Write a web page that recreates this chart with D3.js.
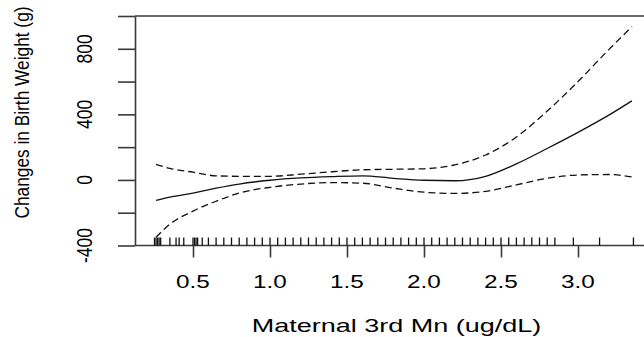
<!DOCTYPE html>
<html>
<head>
<meta charset="utf-8">
<script src="https://cdn.jsdelivr.net/npm/d3@7"></script>
<style>
  html, body { margin: 0; padding: 0; background: #fff; }
  svg { display: block; }
  text { font-family: "Liberation Sans", Arial, Helvetica, sans-serif; fill: #000; }
</style>
</head>
<body>
<svg id="chart" width="644" height="337"></svg>
<script>
// ---- data ----
const xValues = [0.26, 0.35, 0.5, 0.65, 0.8, 1.0, 1.2, 1.4, 1.6, 1.8, 2.0, 2.2, 2.4, 2.6, 2.8, 3.0, 3.2, 3.35];
const fitValues = [-125, -105, -80, -50, -25, -2, 12, 20, 25, 10, -2, -5, 22, 98, 192, 290, 395, 482];
const upperValues = [95, 70, 47, 25, 22, 22, 35, 50, 62, 65, 68, 92, 152, 262, 420, 600, 795, 935];
const lowerValues = [-350, -270, -190, -130, -80, -45, -25, -16, -20, -50, -75, -82, -70, -30, 10, 30, 33, 18];
const rugValues = [0.25, 0.26, 0.27, 0.28, 0.29, 0.35, 0.39, 0.41, 0.44, 0.50, 0.51, 0.52, 0.53, 0.56,
  0.60, 0.65, 0.70, 0.75, 0.80, 0.85, 0.90, 0.95, 1.00, 1.05, 1.10, 1.15, 1.20, 1.25, 1.30, 1.35,
  1.40, 1.45, 1.50, 1.55, 1.60, 1.65, 1.70, 1.75, 1.80, 1.85, 1.90, 1.95, 2.00, 2.05, 2.10, 2.15,
  2.20, 2.25, 2.30, 2.35, 2.40, 2.45, 2.50, 2.55, 2.60, 2.65, 2.70, 2.75, 2.80, 2.85, 2.97, 3.14, 3.36];
const xTicks = [0.5, 1.0, 1.5, 2.0, 2.5, 3.0];
const xTickLabels = ["0.5", "1.0", "1.5", "2.0", "2.5", "3.0"];
const yTicks = [-400, -200, 0, 200, 400, 600, 800, 1000];
const yLabelTicks = [-400, 0, 400, 800];
const yTickLabels = ["-400", "0", "400", "800"];
const xTitle = "Maternal 3rd Mn (ug/dL)";
const yTitle = "Changes in Birth Weight (g)";

// ---- scales ----
const svg = d3.select("#chart");
const x = d3.scaleLinear().domain([0.5, 3.0]).range([193, 578]);
const y = d3.scaleLinear().domain([-400, 1000]).range([245.5, 16]);
const leftX = 135, rightX = 644;
const axisColor = "#3a3a3a";

// frame lines: top and bottom
svg.append("line").attr("x1", leftX).attr("x2", rightX).attr("y1", y(1000)).attr("y2", y(1000))
  .attr("stroke", axisColor).attr("stroke-width", 1.6);
svg.append("line").attr("x1", leftX).attr("x2", rightX).attr("y1", y(-400)).attr("y2", y(-400))
  .attr("stroke", axisColor).attr("stroke-width", 1.6);

// left axis
const yAxis = d3.axisLeft(y).tickValues(yTicks).tickSize(17).tickSizeOuter(0).tickFormat("");
const gy = svg.append("g").attr("transform", `translate(${leftX},0)`).call(yAxis);
gy.selectAll("path, line").attr("stroke", axisColor).attr("stroke-width", 1.6);

// bottom axis ticks
const xAxis = d3.axisBottom(x).tickValues(xTicks).tickSize(12).tickSizeOuter(0).tickFormat("");
const gx = svg.append("g").attr("transform", `translate(0,${y(-400)})`).call(xAxis);
gx.select("path.domain").remove();
gx.selectAll("line").attr("stroke", axisColor).attr("stroke-width", 1.6);

// x tick labels
svg.append("g").selectAll("text").data(xTicks).join("text")
  .attr("transform", d => `translate(${x(d)},288) scale(1.35,1)`)
  .attr("text-anchor", "middle").attr("font-size", 18)
  .text((d, i) => xTickLabels[i]);

// y tick labels (rotated)
svg.append("g").selectAll("text").data(yLabelTicks).join("text")
  .attr("transform", d => `translate(92,${y(d)}) scale(1.22,1) rotate(-90)`)
  .attr("text-anchor", "middle").attr("font-size", 17.5)
  .text((d, i) => yTickLabels[i]);

// titles
svg.append("text").attr("transform", "translate(396.5,332) scale(1.5,1)")
  .attr("text-anchor", "middle").attr("font-size", 18).text(xTitle);
svg.append("text").attr("transform", "translate(28.5,112.5) scale(1.22,1) rotate(-90)")
  .attr("text-anchor", "middle").attr("font-size", 17.3).text(yTitle);

// rug
svg.append("g").selectAll("line").data(rugValues).join("line")
  .attr("x1", d => x(d)).attr("x2", d => x(d))
  .attr("y1", y(-400)).attr("y2", y(-400) - 8)
  .attr("stroke", "#111").attr("stroke-width", 1.3);

// curves
const pts = (vals) => xValues.map((v, i) => [v, vals[i]]);
const line = d3.line().x(d => x(d[0])).y(d => y(d[1])).curve(d3.curveMonotoneX);
svg.append("path").attr("d", line(pts(fitValues)))
  .attr("fill", "none").attr("stroke", "#111").attr("stroke-width", 1.3);
[upperValues, lowerValues].forEach(vals => {
  svg.append("path").attr("d", line(pts(vals)))
    .attr("fill", "none").attr("stroke", "#111").attr("stroke-width", 1.3)
    .attr("stroke-dasharray", "7,4");
});
</script>
</body>
</html>
